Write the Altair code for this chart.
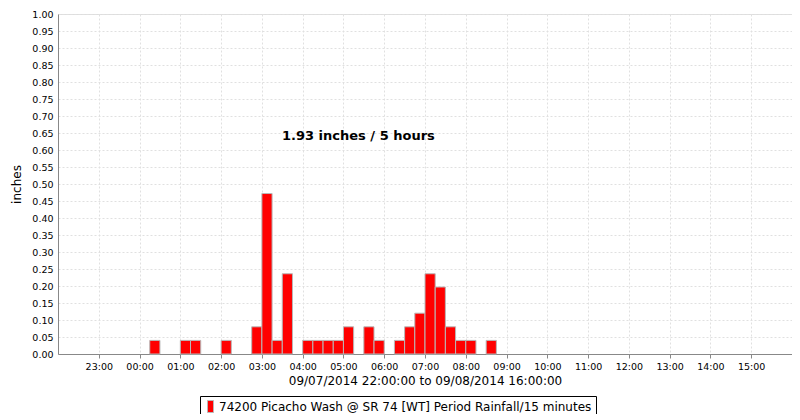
import altair as alt
import pandas as pd

# 15-minute intervals (start times) and rainfall (inches)
starts = ["2014-09-08T00:15:00", "2014-09-08T01:00:00", "2014-09-08T01:15:00", "2014-09-08T02:00:00",
          "2014-09-08T02:45:00", "2014-09-08T03:00:00", "2014-09-08T03:15:00", "2014-09-08T03:30:00",
          "2014-09-08T04:00:00", "2014-09-08T04:15:00", "2014-09-08T04:30:00", "2014-09-08T04:45:00",
          "2014-09-08T05:00:00", "2014-09-08T05:30:00", "2014-09-08T05:45:00", "2014-09-08T06:15:00",
          "2014-09-08T06:30:00", "2014-09-08T06:45:00", "2014-09-08T07:00:00", "2014-09-08T07:15:00",
          "2014-09-08T07:30:00", "2014-09-08T07:45:00", "2014-09-08T08:00:00", "2014-09-08T08:30:00"]
rain = [0.04, 0.04, 0.04, 0.04,
        0.08, 0.472, 0.04, 0.236,
        0.04, 0.04, 0.04, 0.04,
        0.08, 0.08, 0.04, 0.04,
        0.08, 0.12, 0.236, 0.197,
        0.08, 0.04, 0.04, 0.04]
series_name = "74200 Picacho Wash @ SR 74 [WT] Period Rainfall/15 minutes"
y_ticks = [round(i * 0.05, 2) for i in range(21)]
hour_ticks = [(7, 23)] + [(8, h) for h in range(0, 16)]
annotation = "1.93 inches / 5 hours"
x_title = "09/07/2014 22:00:00 to 09/08/2014 16:00:00"

s = pd.to_datetime(pd.Series(starts))
df = pd.DataFrame({
    "start": s.dt.strftime("%Y-%m-%dT%H:%M:%S"),
    "end": (s + pd.Timedelta(minutes=15)).dt.strftime("%Y-%m-%dT%H:%M:%S"),
    "rain": rain,
    "series": series_name,
})

font = "DejaVu Sans"
x_scale = alt.Scale(domain=[alt.DateTime(year=2014, month=9, date=7, hours=22),
                            alt.DateTime(year=2014, month=9, date=8, hours=16)])
y_scale = alt.Scale(domain=[0, 1], nice=False, zero=True)

x_axis = alt.Axis(values=[alt.DateTime(year=2014, month=9, date=d, hours=h) for d, h in hour_ticks],
                  format="%H:%M", labelFontSize=9.5, labelColor="#000", titleFontSize=12,
                  titleFont=font, labelFont=font, titleFontWeight="normal", titleColor="#000",
                  tickSize=4, tickColor="#888", domainColor="#888", labelPadding=3, titlePadding=5,
                  gridColor="#e0e0e0", gridDash=[2, 2])
y_axis = alt.Axis(values=y_ticks, format=".2f", labelFontSize=9.5, labelColor="#000",
                  labelFont=font, titleFont=font, titleFontSize=12, titleFontWeight="normal",
                  titleColor="#000", ticks=False, domainColor="#888", labelPadding=5,
                  labelOverlap=False, titlePadding=8, gridColor="#e0e0e0", gridDash=[2, 2])

bars = alt.Chart(df).mark_bar(stroke="#b8b8b8", strokeWidth=1).encode(
    x=alt.X("start:T", scale=x_scale, title=x_title, axis=x_axis),
    x2="end:T",
    y=alt.Y("rain:Q", scale=y_scale, title="inches", axis=y_axis),
    y2=alt.datum(0),
    color=alt.Color("series:N", scale=alt.Scale(range=["#ff0000"]),
                    legend=alt.Legend(title=None, orient="none", legendX=142, legendY=382,
                                      strokeColor="#000", padding=4, labelFontSize=12, labelFont=font,
                                      labelColor="#000", labelLimit=0, symbolType="M-0.5,-1H0.5V1H-0.5Z",
                                      symbolSize=144, symbolStrokeColor="#b8b8b8", symbolStrokeWidth=1,
                                      symbolOpacity=1, labelOffset=2)),
)

text = alt.Chart(pd.DataFrame({"t": [annotation]})).mark_text(
    font=font, fontSize=13, fontWeight="bold", color="#000", align="center", baseline="middle"
).encode(
    x=alt.X(datum=alt.DateTime(year=2014, month=9, date=8, hours=5, minutes=22), type="temporal",
            scale=x_scale, title=x_title, axis=x_axis),
    y=alt.Y(datum=0.64, type="quantitative", scale=y_scale, title="inches", axis=y_axis),
    text="t:N",
)

chart = (bars + text).properties(
    width=734, height=340,
    autosize=alt.AutoSizeParams(type="none"),
    padding={"left": 50, "top": 6, "right": 0, "bottom": 60},
).configure_view(stroke="#999").configure(background="#fff")

chart.save("out.html", embed_options={"renderer": "svg", "actions": False})
